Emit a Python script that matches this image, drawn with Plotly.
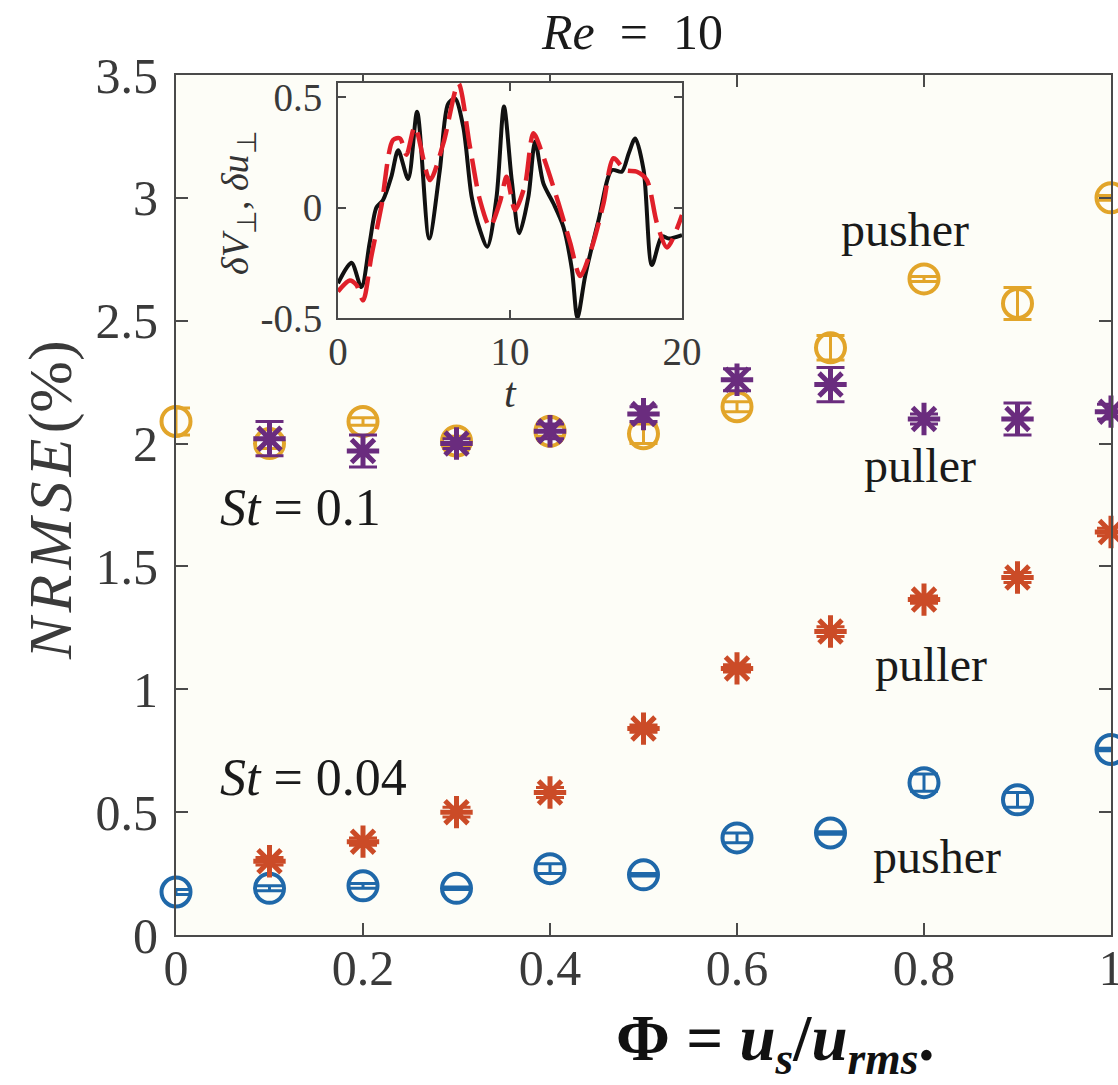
import plotly.graph_objects as go

# ---- main data: NRMSE (%) versus swimming number Phi ----
phi_all = [0.0, 0.1, 0.2, 0.3, 0.4, 0.5, 0.6, 0.7, 0.8, 0.9, 1.0]
phi_puller = [0.1, 0.2, 0.3, 0.4, 0.5, 0.6, 0.7, 0.8, 0.9, 1.0]

# St = 0.1
st01_pusher = [2.09, 2.00, 2.09, 2.01, 2.05, 2.04, 2.15, 2.39, 2.67, 2.57, 3.00]
st01_pusher_err = [0.055, 0.02, 0.015, 0.02, 0.02, 0.04, 0.02, 0.05, 0.01, 0.065, 0.01]
st01_puller = [2.02, 1.97, 2.00, 2.05, 2.12, 2.26, 2.24, 2.10, 2.10, 2.13]
st01_puller_err = [0.07, 0.065, 0.02, 0.03, 0.03, 0.045, 0.07, 0.02, 0.065, 0.03]

# St = 0.04
st004_pusher = [0.175, 0.19, 0.20, 0.19, 0.27, 0.245, 0.395, 0.415, 0.62, 0.55, 0.755]
st004_pusher_err = [0.01, 0.01, 0.01, 0.005, 0.02, 0.005, 0.02, 0.005, 0.035, 0.03, 0.005]
st004_puller = [0.30, 0.38, 0.50, 0.58, 0.84, 1.085, 1.235, 1.365, 1.455, 1.64]
st004_puller_err = [0.015, 0.015, 0.02, 0.02, 0.015, 0.015, 0.02, 0.015, 0.02, 0.015]

x_ticks = [0, 0.2, 0.4, 0.6, 0.8, 1]
x_ticklabels = ["0", "0.2", "0.4", "0.6", "0.8", "1"]
y_ticks = [0, 0.5, 1, 1.5, 2, 2.5, 3, 3.5]
y_ticklabels = ["0", "0.5", "1", "1.5", "2", "2.5", "3", "3.5"]

# ---- inset data: velocity fluctuation time series ----
t_swimmer = [0, 0.78, 1.36, 1.84, 2.23, 2.62, 3.1, 3.5, 4.08, 4.6, 5.3, 5.92, 6.4, 6.8,
             7.28, 7.77, 8.25, 8.68, 9.22, 9.65, 10.1, 10.54, 11.07, 11.46, 11.94,
             12.52, 13.1, 13.6, 13.92, 14.37, 15.15, 15.92, 16.5, 16.9, 17.28, 17.77,
             18.25, 18.83, 19.22, 20]
dV_swimmer = [-0.343, -0.25, -0.36, -0.16, 0.0, 0.035, 0.14, 0.26, 0.13, 0.435, -0.14,
              0.17, 0.47, 0.495, 0.367, 0.05, -0.1, -0.177, 0.05, 0.458, 0.125, -0.116,
              0.05, 0.3, 0.11, 0.02, -0.086, -0.28, -0.5, -0.31, -0.056, 0.17, 0.163,
              0.246, 0.314, 0.17, -0.26, -0.13, -0.14, -0.124]
t_fluid = [0, 0.68, 1.07, 1.46, 1.94, 2.52, 3.2, 3.6, 3.98, 4.47, 5.34, 6.12, 7.0, 7.67,
           8.25, 8.83, 9.42, 9.8, 10.29, 10.87, 11.36, 11.94, 12.82, 13.5, 14.08, 14.76,
           15.44, 16.02, 16.7, 17.38, 17.96, 18.54, 19.13, 20]
du_fluid = [-0.38, -0.33, -0.35, -0.42, -0.22, 0.005, 0.307, 0.314, 0.24, 0.367, 0.125,
            0.29, 0.563, 0.276, 0.035, -0.086, 0.027, 0.14, -0.01, 0.103, 0.337, 0.231,
            0.02, -0.16, -0.31, -0.18, 0.02, 0.224, 0.17, 0.163, 0.125, -0.07, -0.18,
            -0.033]

GOLD = "#E2A52A"
PURPLE = "#6A2C7E"
RED = "#CB4B27"
BLUE = "#1F68A9"
AXIS = "#4a4a4a"
TICKFONT = "#3a3a3a"
SERIF = "Liberation Serif"

fig = go.Figure()


def add_series(x, y, err, color, symbol, size, lw):
    fig.add_trace(go.Scatter(
        x=x, y=y, mode="markers", cliponaxis=False, showlegend=False,
        marker=dict(symbol=symbol, size=size, color=color,
                    line=dict(color=color, width=lw)),
        error_y=dict(type="data", array=err, visible=True, color=color,
                     thickness=3, width=14),
        xaxis="x", yaxis="y",
    ))


add_series(phi_all, st01_pusher, st01_pusher_err, GOLD, "circle-open", 29, 4)
add_series(phi_puller, st01_puller, st01_puller_err, PURPLE, "asterisk-open", 27, 5)
add_series(phi_all, st004_pusher, st004_pusher_err, BLUE, "circle-open", 29, 4)
add_series(phi_puller, st004_puller, st004_puller_err, RED, "asterisk-open", 27, 5)

# inset curves
fig.add_trace(go.Scatter(
    x=t_swimmer, y=dV_swimmer, mode="lines", showlegend=False,
    line=dict(color="#111111", width=4, shape="spline", smoothing=0.8),
    xaxis="x2", yaxis="y2",
))
fig.add_trace(go.Scatter(
    x=t_fluid, y=du_fluid, mode="lines", showlegend=False,
    line=dict(color="#E0202A", width=4.5, dash="28px,10px", shape="spline", smoothing=0.8),
    xaxis="x2", yaxis="y2",
))

axis_common = dict(
    showline=True, linecolor=AXIS, linewidth=2, mirror="ticks",
    ticks="inside", tickcolor=AXIS, tickwidth=2,
    showgrid=False, zeroline=False, automargin=False,
    ticklabeloverflow="allow",
)

W, H = 1118, 1085
L, R, T, B = 176, W - 1111, 75, H - 935
pw, ph = W - L - R, H - T - B


def px_x(px):
    return (px - L) / pw


def px_y(py):
    return (H - B - py) / ph


fig.update_layout(
    width=W, height=H,
    margin=dict(l=L, r=R, t=T, b=B, autoexpand=False),
    paper_bgcolor="white",
    plot_bgcolor="#fdfdf7",
    font=dict(family=SERIF, color="#1a1a1a"),
    xaxis=dict(
        **axis_common, range=[0, 1], domain=[0, 1],
        tickmode="array", tickvals=x_ticks, ticktext=x_ticklabels,
        ticklen=12, ticklabelstandoff=-12,
        tickfont=dict(family=SERIF, size=50, color=TICKFONT),
    ),
    yaxis=dict(
        **axis_common, range=[0, 3.5], domain=[0, 1],
        tickmode="array", tickvals=y_ticks, ticktext=y_ticklabels,
        ticklen=12, ticklabelstandoff=6,
        tickfont=dict(family=SERIF, size=50, color=TICKFONT),
    ),
    xaxis2=dict(
        **axis_common, range=[0, 20], anchor="y2",
        domain=[px_x(338), px_x(682)],
        tickmode="array", tickvals=[0, 10, 20], ticktext=["0", "10", "20"],
        ticklen=8, ticklabelstandoff=-2,
        tickfont=dict(family=SERIF, size=39, color=TICKFONT),
    ),
    yaxis2=dict(
        **axis_common, range=[-0.5, 0.565], anchor="x2",
        domain=[px_y(318), px_y(83)],
        tickmode="array", tickvals=[-0.5, 0, 0.5], ticktext=["-0.5", "0", "0.5"],
        ticklen=8, ticklabelstandoff=6,
        tickfont=dict(family=SERIF, size=39, color=TICKFONT),
    ),
)

HS = "\u200a"  # hair space between the italic letters of the y title


def note(text, x, y, size, xref="paper", yref="paper", angle=0, color="#1a1a1a",
         xanchor="center"):
    return dict(text=text, x=x, y=y, xref=xref, yref=yref, showarrow=False,
                xanchor=xanchor, yanchor="middle", textangle=angle,
                font=dict(size=size, color=color))


annotations = [
    # title and axis titles
    note("<i>Re</i>&nbsp;&nbsp;=&nbsp;&nbsp;10", px_x(632), px_y(32), 50),
    note("<i>" + HS.join("NRMSE") + HS + "</i>(%)", px_x(50), px_y(500), 62,
         angle=-90, color="#3a3a3a"),
    note("<b>Φ = <i>u<sub>s</sub></i>/<i>u<sub>rms</sub></i>.</b>",
         px_x(775), px_y(1043), 65, color="#111111"),
    # inset axis titles
    note("<i>δV</i><sub>⊥</sub>, <i>δu</i><sub>⊥</sub>", px_x(238), px_y(203), 38,
         angle=-90, color="#333333"),
    note("<i>t</i>", px_x(510), px_y(393), 42, color="#333333"),
    # in-plot labels
    note("pusher", 0.78, 2.87, 48, "x", "y"),
    note("puller", 0.796, 1.91, 48, "x", "y"),
    note("<i>St</i> = 0.1", 0.045, 1.74, 52, "x", "y", xanchor="left"),
    note("puller", 0.807, 1.10, 48, "x", "y"),
    note("<i>St</i> = 0.04", 0.045, 0.64, 52, "x", "y", xanchor="left"),
    note("pusher", 0.814, 0.32, 48, "x", "y"),
]
fig.update_layout(annotations=annotations)

fig.write_html("out.html")
